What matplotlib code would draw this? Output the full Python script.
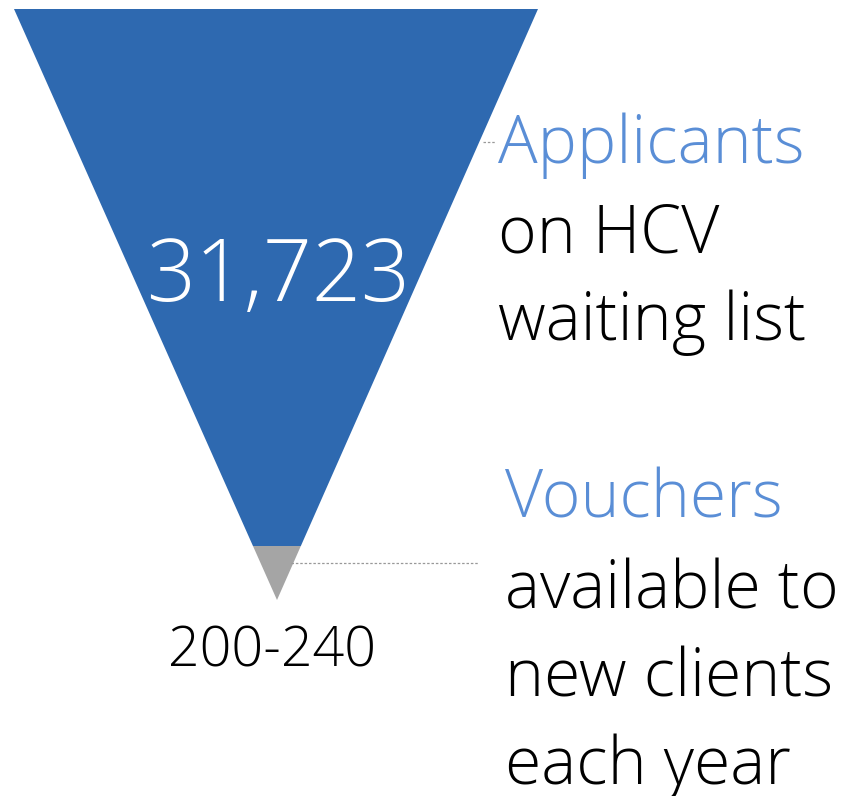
import matplotlib.pyplot as plt
from matplotlib.patches import Polygon

# funnel contents
stage_values = ["31,723", "200-240"]
stage_titles = ["Applicants", "Vouchers"]
stage_notes = [["on HCV", "waiting list"],
               ["available to", "new clients", "each year"]]

blue = "#2E69B0"
gray = "#A5A5A5"
title_blue = "#5A8ED6"
font = ["Open Sans", "DejaVu Sans"]

fig = plt.figure(figsize=(8.56, 7.96), dpi=100)
ax = fig.add_axes([0, 0, 1, 1])
ax.set_xlim(0, 856)
ax.set_ylim(796, 0)
ax.axis("off")

# triangle geometry (pixel space)
top_y, apex_y = 9, 600
left_x, right_x, apex_x = 14, 538, 277
split_y = 546


def edge_x(y, side):
    f = (apex_y - y) / (apex_y - top_y)
    return apex_x + f * ((right_x if side else left_x) - apex_x)


ax.add_patch(Polygon([(left_x, top_y), (right_x, top_y),
                      (edge_x(split_y, 1), split_y), (edge_x(split_y, 0), split_y)],
                     closed=True, color=blue, lw=0))
ax.add_patch(Polygon([(edge_x(split_y, 0), split_y), (edge_x(split_y, 1), split_y),
                      (apex_x, apex_y)], closed=True, color=gray, lw=0))

# leader lines
ax.plot([483, 496], [142, 142], ls=(0, (2, 1.5)), color="#999999", lw=0.9)
ax.plot([291, 478], [563, 563], ls=(0, (2, 1.5)), color="#999999", lw=0.9)

# values
ax.text(278, 278, stage_values[0], color="white", fontsize=62, family=font,
        weight="light", ha="center", va="center")
ax.text(272, 652, stage_values[1], color="black", fontsize=40, family=font,
        weight="light", ha="center", va="center")

# side labels
fs = 47.5
ax.text(498, 146, stage_titles[0], color=title_blue, fontsize=fs, family=font,
        weight="light", ha="left", va="center")
for i, t in enumerate(stage_notes[0]):
    ax.text(498, 235 + 88 * i, t, color="black", fontsize=fs, family=font,
            weight="light", ha="left", va="center")

ax.text(505, 500, stage_titles[1], color=title_blue, fontsize=fs, family=font,
        weight="light", ha="left", va="center")
for i, t in enumerate(stage_notes[1]):
    ax.text(505, 591 + 88 * i, t, color="black", fontsize=fs, family=font,
            weight="light", ha="left", va="center")

fig.savefig("out.png", dpi=100)
